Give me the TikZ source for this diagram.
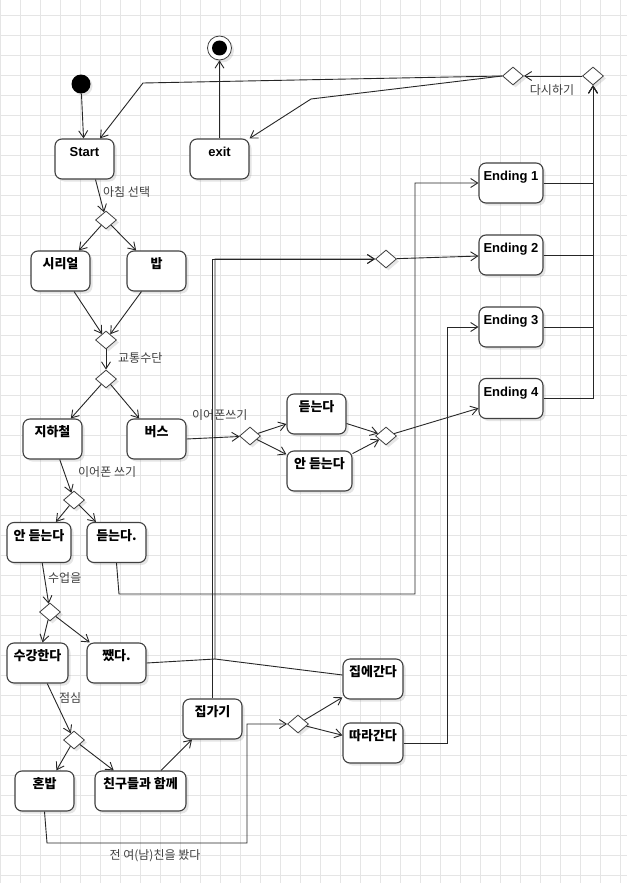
\documentclass[tikz,border=0pt]{standalone}
\usepackage{fontspec}
\setmainfont{Liberation Sans}
\newfontfamily\kr{Noto Sans CJK KR}
\usetikzlibrary{positioning,shapes.geometric,arrows.meta,shadows}
\tikzset{
  % Specifications for style of nodes:
  base/.style = {
    draw=black!75,
    fill=white,
    drop shadow={shadow xshift=2.5pt, shadow yshift=-2.5pt, opacity=0.2, fill=black!50}
  },
  state/.style = {
    base,
    rectangle,
    rounded corners=7pt,
    line width=1.1pt,
    minimum width=59pt,
    inner xsep=0pt,
    inner ysep=0pt,
    text height=17.5pt,
    text depth=22.5pt,
    font=\bfseries\fontsize{13}{15}\selectfont
  },
  kstate/.style = {
    state,
    font=\kr\bfseries\fontsize{13}{15}\selectfont
  },
  choice/.style = {
    base,
    diamond,
    line width=0.8pt,
    minimum width=21pt,
    minimum height=18pt,
    inner sep=0pt
  },
  initial/.style = {
    circle,
    fill=black,
    minimum size=19pt,
    inner sep=0pt,
    drop shadow={shadow xshift=2pt, shadow yshift=-2pt, opacity=0.2, fill=black!50}
  },
  final/.style = {
    base,
    circle,
    line width=0.8pt,
    minimum size=24pt,
    inner sep=0pt
  },
  note/.style = {
    font=\kr\fontsize{12}{14}\selectfont,
    text=black!75,
    inner sep=0pt
  },
  flow/.style = {
    draw=black!85,
    line width=0.9pt,
    -{Straight Barb[length=7pt,width=9pt]}
  },
  link/.style = {
    draw=black!85,
    line width=0.9pt
  },
  gridline/.style = {
    draw=black!10,
    line width=0.5pt
  },
}

\begin{document}
\begin{tikzpicture}[x=1pt, y=-1pt]
    % Background and grid
    \fill[white] (0,0) rectangle (627,883);
    \useasboundingbox (0,0) rectangle (627,883);
    \foreach \gx in {0,20,...,620} \draw[gridline] (\gx,0) -- (\gx,883);
    \foreach \gy in {15,35,...,875} \draw[gridline] (0,\gy) -- (627,\gy);

    % Specification of nodes (position, etc.)
    \node[initial]                          (init)      at (81,84)      {};
    \node[final]                            (final)     at (219.5,48)   {};
    \node[circle, fill=black, minimum size=15pt, inner sep=0pt] (finalcore) at (final.center) {};
    \node[state]                            (start)     at (84.5,159)   {Start};
    \node[state]                            (exit)      at (219.5,159)  {exit};
    \node[choice]                           (dA)        at (513,76)     {};
    \node[choice]                           (dB)        at (593,76)     {};
    \node[choice]                           (d1)        at (106,220)    {};
    \node[kstate]                           (cereal)    at (60.5,271)   {시리얼};
    \node[kstate]                           (rice)      at (156.5,271)  {밥};
    \node[choice]                           (d2)        at (106,340)    {};
    \node[choice]                           (d3)        at (106,379)    {};
    \node[kstate]                           (subway)    at (52.5,439)   {지하철};
    \node[kstate]                           (bus)       at (156.5,439)  {버스};
    \node[choice]                           (d4)        at (250,436)    {};
    \node[kstate]                           (listenB)   at (316.5,414)  {듣는다};
    \node[kstate, minimum width=65pt]       (nolistenB) at (319.5,471)  {안 듣는다};
    \node[choice]                           (d7)        at (386,436)    {};
    \node[choice]                           (d5)        at (74,500)     {};
    \node[kstate, minimum width=64pt]       (nolistenS) at (39,542.5)   {안 듣는다};
    \node[kstate]                           (listenS)   at (116.5,542.5){듣는다.};
    \node[choice]                           (d6)        at (50,612)     {};
    \node[kstate, minimum width=61pt]       (attend)    at (37.5,663)   {수강한다};
    \node[kstate]                           (skip)      at (116.5,663)  {쨌다.};
    \node[choice]                           (d8)        at (74,740)     {};
    \node[kstate]                           (alone)     at (44.5,791)   {혼밥};
    \node[kstate, minimum width=91pt]       (friends)   at (140.5,791)  {친구들과 함께};
    \node[kstate]                           (home)      at (212.5,719)  {집가기};
    \node[choice]                           (d9)        at (298,724)    {};
    \node[kstate, minimum width=60pt]       (gohome)    at (373,679)    {집에간다};
    \node[kstate, minimum width=60pt]       (follow)    at (373,743)    {따라간다};
    \node[choice]                           (dC)        at (386,259)    {};
    \node[state, minimum width=64pt]        (end1)      at (511,183)    {Ending 1};
    \node[state, minimum width=64pt]        (end2)      at (511,255)    {Ending 2};
    \node[state, minimum width=64pt]        (end3)      at (511,327)    {Ending 3};
    \node[state, minimum width=64pt]        (end4)      at (511,398.5)  {Ending 4};

    % Labels on the transitions
    \node[note, anchor=west]                (lbBreakfast) at (103,192)  {아침 선택};
    \node[note, anchor=west]                (lbTransport) at (118,358)  {교통수단};
    \node[note, anchor=west]                (lbEarBus)    at (192,415)  {이어폰쓰기};
    \node[note, anchor=west]                (lbEarSub)    at (78,472)   {이어폰 쓰기};
    \node[note, anchor=west]                (lbClass)     at (48,578)   {수업을};
    \node[note, anchor=west]                (lbLunch)     at (59,698)   {점심};
    \node[note]                             (lbEx)        at (155,856)  {전 여(남)친을 봤다};
    \node[note]                             (lbRetry)     at (552,90)   {다시하기};

    % Bends of the long connectors
    \coordinate (bendS)  at (143,83);
    \coordinate (bendE)  at (311,99);
    \coordinate (bendL1) at (119,594);
    \coordinate (bendL2) at (415,594);
    \coordinate (bendL3) at (415,183);
    \coordinate (bendA1) at (47,843);
    \coordinate (bendA2) at (247,843);
    \coordinate (bendA3) at (247,724);
    \coordinate (bendF1) at (447,743);
    \coordinate (bendF2) at (447,327);
    \coordinate (jn)     at (215,659);
    \coordinate (cn)     at (215,259);

    % Connectors
    \draw[flow] (init) -- (start);
    \draw[flow] (dA.west) -- (bendS) -- ([xshift=15.5pt]start.north);
    \draw[flow] (dA.west) -- (bendE) -- (exit.north east);
    \draw[flow] (exit) -- (final);
    \draw[flow] ([xshift=11pt]start.south) -- (d1);
    \draw[flow] (d1) -- (cereal);
    \draw[flow] (d1) -- (rice);
    \draw[flow] (cereal) -- (d2);
    \draw[flow] (rice) -- (d2);
    \draw[flow] (d2) -- (d3);
    \draw[flow] (d3) -- (subway);
    \draw[flow] (d3) -- (bus);
    \draw[flow] (bus.east) -- (d4);
    \draw[flow] (d4) -- (listenB);
    \draw[flow] (d4) -- (nolistenB);
    \draw[flow] (listenB) -- (d7);
    \draw[flow] (nolistenB) -- (d7);
    \draw[flow] (d7) -- (end4);
    \draw[flow] (subway) -- (d5);
    \draw[flow] (d5) -- (nolistenS);
    \draw[flow] (d5) -- (listenS);
    \draw[flow] (listenS.south) -- (bendL1) -- (bendL2) -- (bendL3) -- (end1);
    \draw[flow] (nolistenS) -- (d6);
    \draw[flow] (d6) -- (attend);
    \draw[flow] (d6) -- (skip);
    \draw[flow] (attend) -- (d8);
    \draw[flow] (d8) -- (alone);
    \draw[flow] (d8) -- (friends);
    \draw[flow] (friends) -- (home);
    \draw[flow] (alone.south) -- (bendA1) -- (bendA2) -- (bendA3) -- (d9);
    \draw[flow] (d9) -- (gohome);
    \draw[flow] (d9) -- (follow);
    \draw[flow] (follow.east) -- (bendF1) -- (bendF2) -- (end3);
    \draw[flow] (skip.east) -- (jn) -- (cn) -- (dC);
    \draw[link] ([yshift=4pt]gohome.west) -- (jn);
    \draw[flow] (home.north) -- (home.north |- cn) -- (dC);
    \draw[flow] (dC) -- (end2);
    \draw[flow] (end1.east) -- (end1.east -| dB.south) -- (dB.south);
    \draw[flow] (end2.east) -- (end2.east -| dB.south) -- (dB.south);
    \draw[flow] (end3.east) -- (end3.east -| dB.south) -- (dB.south);
    \draw[flow] (end4.east) -- (end4.east -| dB.south) -- (dB.south);
    \draw[flow] (dB) -- (dA);
\end{tikzpicture}
\end{document}
